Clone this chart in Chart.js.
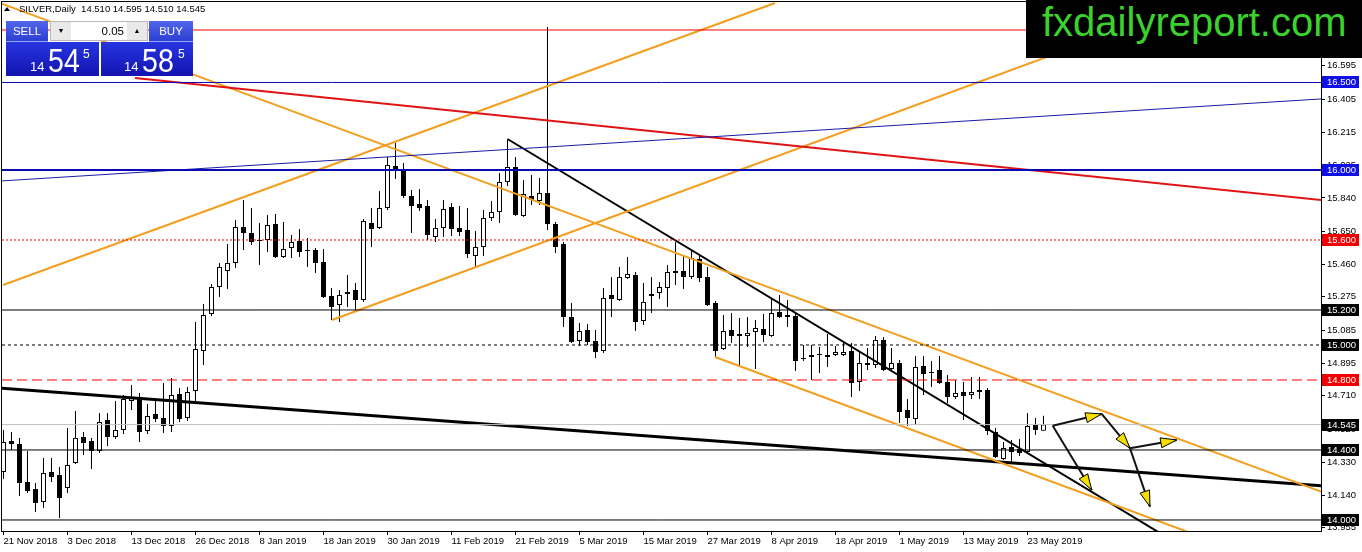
<!DOCTYPE html>
<html><head><meta charset="utf-8">
<script src="https://cdn.jsdelivr.net/npm/chart.js@4.4.1/dist/chart.umd.min.js"></script>
<style>
html,body{margin:0;padding:0;background:#fff;overflow:hidden}
#wrap{position:relative;width:1362px;height:552px;font-family:'Liberation Sans',Arial,sans-serif}
#c{position:absolute;left:0;top:0}
.abs{position:absolute;white-space:nowrap}
#hdr{left:19px;top:3px;font-size:9.5px;line-height:11px;color:#000}
#tri{left:4px;top:7px;width:0;height:0;border-left:3px solid transparent;border-right:3px solid transparent;border-bottom:4px solid #000}
.btn{top:21px;height:21px;line-height:20px;text-align:center;color:#fff;font-size:11.5px;background:linear-gradient(#5166ea,#2c3fd4);box-sizing:border-box;border-bottom:1px solid #9aa6f2}
#spin{left:50px;top:21px;width:98px;height:20px;background:#fff;border:1px solid #b8b8b8;box-sizing:border-box}
.sb{top:0;width:20px;height:18px;background:#e9e9e9;font-size:7px;line-height:18px;text-align:center;color:#000}
#spv{left:22px;width:51px;top:0;height:18px;line-height:18px;text-align:right;font-size:11.5px;color:#000}
.pbox{top:42px;height:34px;background:linear-gradient(#2736e0,#1313b0)}
.sm{font-size:13px;line-height:13px;color:#fff}
.big{font-size:34px;line-height:34px;color:#fff;transform:scaleX(0.84);transform-origin:0 0}
.sup{font-size:12px;line-height:12px;color:#fff}
#logo{left:1026px;top:0;width:336px;height:58px;background:#000}
#logotxt{left:1042px;top:0;font-size:40px;color:#3bd22e}
</style></head>
<body><div id="wrap">
<canvas id="c" width="1362" height="552"></canvas>
<div id="tri" class="abs"></div>
<div id="hdr" class="abs">SILVER,Daily&nbsp; 14.510 14.595 14.510 14.545</div>
<div class="abs pbox" style="left:6px;width:93px"></div>
<div class="abs pbox" style="left:101px;width:92px"></div>
<div class="abs btn" style="left:6px;width:42px">SELL</div>
<div class="abs btn" style="left:149px;width:44px">BUY</div>
<div id="spin" class="abs"><div class="abs sb" style="left:0">&#9660;</div><div id="spv" class="abs">0.05</div><div class="abs sb" style="right:0">&#9650;</div></div>
<div class="abs sm" style="left:30px;top:60px">14</div>
<div class="abs big" style="left:48px;top:43px">54</div>
<div class="abs sup" style="left:83px;top:48px">5</div>
<div class="abs sm" style="left:124px;top:60px">14</div>
<div class="abs big" style="left:142px;top:43px">58</div>
<div class="abs sup" style="left:178px;top:48px">5</div>
<div id="logo" class="abs"></div>
<div id="logotxt" class="abs">fxdailyreport.com</div>
</div>
<script>
// ---------- data ----------
const dateLabels = ['21 Nov 2018','3 Dec 2018','13 Dec 2018','26 Dec 2018','8 Jan 2019','18 Jan 2019','30 Jan 2019','11 Feb 2019','21 Feb 2019','5 Mar 2019','15 Mar 2019','27 Mar 2019','8 Apr 2019','18 Apr 2019','1 May 2019','13 May 2019','23 May 2019'];
const barsPerLabel = 8;

const opens = [14.274,14.451,14.434,14.217,14.177,14.103,14.274,14.257,14.183,14.326,14.474,14.451,14.394,14.571,14.474,14.514,14.680,14.703,14.509,14.606,
14.583,14.537,14.720,14.583,14.737,14.966,15.177,15.331,15.423,15.469,15.674,15.640,15.600,15.600,15.691,15.503,15.554,15.594,15.543,15.543,
15.474,15.280,15.229,15.291,15.314,15.257,15.697,15.669,15.783,16.023,16.000,15.851,15.806,15.794,15.617,15.669,15.789,15.669,15.657,15.509,
15.560,15.726,15.760,15.931,16.017,15.737,15.851,15.823,15.869,15.691,15.577,15.160,15.023,15.086,15.023,14.966,15.286,15.257,15.383,15.400,
15.137,15.291,15.297,15.326,15.411,15.423,15.389,15.491,15.389,15.240,14.977,15.086,15.063,15.051,15.074,15.091,15.051,15.189,15.171,15.166,
14.926,14.931,14.949,14.943,14.943,14.943,14.966,14.789,14.897,14.886,15.029,14.863,14.897,14.629,14.577,14.880,14.840,14.857,14.789,14.703,
14.731,14.714,14.743,14.743,14.503,14.349,14.417,14.406,14.389,14.543,14.510];
const highs = [14.514,14.503,14.469,14.394,14.211,14.354,14.354,14.303,14.526,14.623,14.503,14.469,14.611,14.611,14.680,14.714,14.771,14.726,14.663,14.686,
14.783,14.811,14.754,14.760,15.131,15.234,15.349,15.469,15.577,15.714,15.829,15.783,15.697,15.743,15.749,15.703,15.629,15.663,15.611,15.554,
15.549,15.326,15.314,15.400,15.354,15.720,15.783,15.880,16.074,16.154,16.040,15.886,15.891,15.829,15.720,15.829,15.811,15.794,15.783,15.651,
15.771,15.823,15.983,16.177,16.074,15.943,15.971,15.954,16.817,15.703,15.589,15.240,15.126,15.120,15.086,15.326,15.389,15.446,15.503,15.417,
15.354,15.389,15.360,15.457,15.589,15.514,15.537,15.514,15.446,15.251,15.171,15.183,15.154,15.160,15.143,15.177,15.269,15.286,15.257,15.189,
15.000,15.000,14.989,15.063,14.994,15.011,15.011,14.960,14.983,15.051,15.046,14.983,14.914,14.691,14.937,14.937,14.909,14.937,14.829,14.800,
14.789,14.817,14.817,14.754,14.526,14.446,14.457,14.463,14.611,14.583,14.595];
const lows = [14.234,14.400,14.137,14.154,14.046,14.069,14.217,14.011,14.154,14.320,14.371,14.291,14.383,14.423,14.463,14.491,14.629,14.446,14.491,14.560,
14.497,14.503,14.560,14.566,14.674,14.886,15.166,15.274,15.320,15.440,15.543,15.571,15.457,15.531,15.497,15.497,15.497,15.503,15.446,15.411,
15.269,15.143,15.131,15.217,15.200,15.246,15.560,15.663,15.771,15.949,15.840,15.640,15.766,15.600,15.589,15.617,15.623,15.623,15.497,15.446,
15.509,15.709,15.697,15.909,15.737,15.731,15.800,15.800,15.657,15.526,15.103,15.011,14.994,15.000,14.926,14.954,15.160,15.251,15.377,15.080,
15.114,15.183,15.263,15.217,15.343,15.320,15.377,15.360,15.223,14.931,14.971,15.011,14.886,14.989,14.863,15.017,15.046,15.154,15.103,14.851,
14.909,14.800,14.840,14.874,14.937,14.937,14.703,14.737,14.857,14.869,14.851,14.851,14.554,14.537,14.543,14.714,14.760,14.777,14.669,14.691,
14.571,14.691,14.691,14.486,14.354,14.343,14.331,14.366,14.377,14.486,14.510];
const closes = [14.446,14.434,14.211,14.166,14.097,14.269,14.246,14.126,14.314,14.469,14.440,14.394,14.560,14.474,14.514,14.691,14.697,14.503,14.594,14.577,
14.537,14.714,14.577,14.731,14.977,15.171,15.331,15.446,15.469,15.674,15.640,15.589,15.594,15.686,15.503,15.549,15.589,15.531,15.537,15.469,
15.274,15.217,15.286,15.303,15.257,15.709,15.663,15.783,16.029,16.000,15.851,15.794,15.783,15.629,15.669,15.777,15.663,15.646,15.520,15.560,
15.726,15.760,15.931,16.017,15.743,15.863,15.829,15.869,15.691,15.560,15.160,15.017,15.080,15.017,14.960,15.269,15.263,15.389,15.406,15.131,
15.246,15.280,15.331,15.417,15.423,15.389,15.497,15.383,15.229,14.966,15.080,15.051,15.051,15.069,15.097,15.057,15.183,15.160,15.160,14.909,
14.920,14.943,14.943,14.931,14.960,14.960,14.783,14.897,14.886,15.029,14.857,14.897,14.617,14.583,14.874,14.834,14.846,14.783,14.703,14.726,
14.709,14.731,14.731,14.509,14.360,14.411,14.389,14.383,14.537,14.514,14.545];

const priceTicks = [13.955,14.140,14.330,14.520,14.710,14.895,15.085,15.275,15.460,15.650,15.840,16.025,16.215,16.405,16.595];

// horizontal levels (price) and which carry a coloured price tag
const levelPrices = [16.800,16.500,16.000,15.600,15.200,15.000,14.800,14.545,14.400,14.000];
const taggedLevels = [16.500,16.000,15.600,15.200,15.000,14.800,14.545,14.400,14.000];

// trend lines: [bar index, price] end points
const lineA = [[-0.06,15.343],[96.44,16.954]];
const lineB = [[41.06,15.143],[149.56,16.968]];
const lineC = [[-0.44,16.954],[164.7,14.162]];
const lineD = [[88.94,14.931],[149.56,13.906]];
const lineE = [[63,16.177],[145.8,13.891]];
const lineF = [[-0.44,14.754],[164.7,14.196]];
const lineG = [[-0.44,15.937],[164.7,16.406]];
const lineH = [[16.44,16.526],[164.7,15.829]];

// arrows: [bar0, price0, bar1, price1]
const arrowSegments = [
  [131.15,14.539,137.27,14.606],
  [137.27,14.606,140.81,14.410],
  [140.81,14.410,146.65,14.457],
  [140.81,14.410,143.31,14.076],
  [131.15,14.539,136.03,14.171]
];

// ---------- styles / axis range ----------
const X_MIN = -0.1875, X_MAX = 164.6875, Y_MIN = 13.937, Y_MAX = 16.960;
const ORANGE = '#f29e1e';
const levelStyle = {
  16.8:{c:'#ff0000',w:1,d:[]}, 16.5:{c:'#0a0ab4',w:1,d:[]}, 16:{c:'#0a0ab4',w:2,d:[]},
  15.6:{c:'#ff0000',w:1,d:[2,2]}, 15.2:{c:'#000',w:1,d:[]}, 15:{c:'#000',w:1,d:[3,3]},
  14.8:{c:'#ff0000',w:1,d:[10,5]}, 14.545:{c:'#c0c0c0',w:1,d:[]}, 14.4:{c:'#000',w:1,d:[]}, 14:{c:'#000',w:1,d:[]}
};
const tagColor = {16.5:'#1010e6',16:'#1010e6',15.6:'#f00000',14.8:'#f00000'};

function seg(pts, color, width, dash){
  return {type:'line', data: pts.map(p=>({x:p[0], y:p[1]})), borderColor:color, borderWidth:width,
    borderDash:dash||[], pointRadius:0, pointHoverRadius:0, fill:false, tension:0, clip:0, order:0};
}

const datasets = [];
levelPrices.forEach(v=>{ const s=levelStyle[v]; datasets.push(seg([[X_MIN,v],[X_MAX,v]], s.c, s.w, s.d)); });
datasets.push(seg(lineG,'#1a1aa8',1));
datasets.push(seg(lineH,'#e01414',2));
datasets.push(seg(lineA,ORANGE,2));
datasets.push(seg(lineB,ORANGE,2));
datasets.push(seg(lineC,ORANGE,2));
datasets.push(seg(lineD,ORANGE,2));
datasets.push(seg(lineE,'#000',2));
datasets.push(seg(lineF,'#000',3));
datasets.push({type:'bar', data: highs.map((h,i)=>({x:i, y:[lows[i],h]})), backgroundColor:'#000', borderWidth:0,
  barThickness:1, grouped:false, inflateAmount:0, order:2});
datasets.push({type:'bar', data: opens.map((o,i)=>({x:i, y:[o,closes[i]]})),
  backgroundColor: opens.map((o,i)=> closes[i]>=o ? '#fff' : '#000'), borderColor:'#000', borderWidth:1,
  borderSkipped:false, barThickness:5, grouped:false, inflateAmount:0, order:1});

const overlay = {
  id:'overlay',
  afterDatasetsDraw(chart){
    const {ctx, chartArea:a, scales:{x,y}} = chart;
    ctx.save();
    ctx.beginPath(); ctx.rect(a.left,a.top,a.right-a.left,a.bottom-a.top); ctx.clip();
    arrowSegments.forEach(s=>{
      const X0=x.getPixelForValue(s[0]), Y0=y.getPixelForValue(s[1]);
      const X1=x.getPixelForValue(s[2]), Y1=y.getPixelForValue(s[3]);
      ctx.strokeStyle='#111'; ctx.lineWidth=2; ctx.setLineDash([]);
      ctx.beginPath(); ctx.moveTo(X0,Y0); ctx.lineTo(X1,Y1); ctx.stroke();
      const ang=Math.atan2(Y1-Y0,X1-X0), L=16, W=5;
      const c=Math.cos(ang), sn=Math.sin(ang);
      const bx=X1-L*c, by=Y1-L*sn;
      ctx.beginPath(); ctx.moveTo(X1,Y1); ctx.lineTo(bx-W*sn,by+W*c); ctx.lineTo(bx+W*sn,by-W*c); ctx.closePath();
      ctx.fillStyle='#f3de00'; ctx.fill(); ctx.lineWidth=1; ctx.strokeStyle='#000'; ctx.stroke();
    });
    ctx.restore();
  },
  afterDraw(chart){
    const {ctx, chartArea:a, scales:{y}} = chart;
    ctx.save();
    ctx.strokeStyle='#000'; ctx.lineWidth=1; ctx.setLineDash([]);
    ctx.strokeRect(a.left-0.5, a.top-0.5, a.right-a.left+1, a.bottom-a.top+1);
    ctx.font="9.5px 'Liberation Sans', Arial, sans-serif"; ctx.textBaseline='middle'; ctx.textAlign='left';
    taggedLevels.forEach(v=>{
      const py=Math.round(y.getPixelForValue(v));
      ctx.fillStyle=tagColor[v]||'#000';
      ctx.fillRect(a.right+1, py-6, 37, 12);
      ctx.fillStyle='#fff';
      ctx.fillText(v.toFixed(3), a.right+6, py+0.5);
    });
    ctx.restore();
  }
};

Chart.defaults.font.family = "'Liberation Sans', Arial, sans-serif";
Chart.defaults.font.size = 9.5;
Chart.defaults.color = '#000';

new Chart(document.getElementById('c'), {
  type:'bar',
  data:{datasets},
  options:{
    responsive:false, animation:false, devicePixelRatio:1, events:[],
    layout:{padding:{left:2,top:2,right:0,bottom:0}},
    plugins:{legend:{display:false}, tooltip:{enabled:false}},
    scales:{
      x:{type:'linear', min:X_MIN, max:X_MAX, offset:false, bounds:'data',
        afterFit(s){ s.height=21; s.paddingLeft=0; s.paddingRight=0; },
        afterBuildTicks(s){ s.ticks = dateLabels.map((_,i)=>({value:i*barsPerLabel})); },
        ticks:{callback:(v,i)=>dateLabels[i], align:'start', maxRotation:0, autoSkip:false, padding:1, color:'#000'},
        grid:{drawOnChartArea:false, drawTicks:true, tickLength:4, tickColor:'#000', offset:false},
        border:{display:false}},
      y:{type:'linear', position:'right', min:Y_MIN, max:Y_MAX, bounds:'data', beginAtZero:false,
        afterFit(s){ s.width=41; s.paddingTop=0; s.paddingBottom=0; },
        afterBuildTicks(s){ s.ticks = priceTicks.map(v=>({value:v})); },
        ticks:{callback:v=>Number(v).toFixed(3), autoSkip:false, padding:2, color:'#000'},
        grid:{drawOnChartArea:false, drawTicks:true, tickLength:4, tickColor:'#000'},
        border:{display:false}}
    }
  },
  plugins:[overlay]
});
</script>
</body></html>
